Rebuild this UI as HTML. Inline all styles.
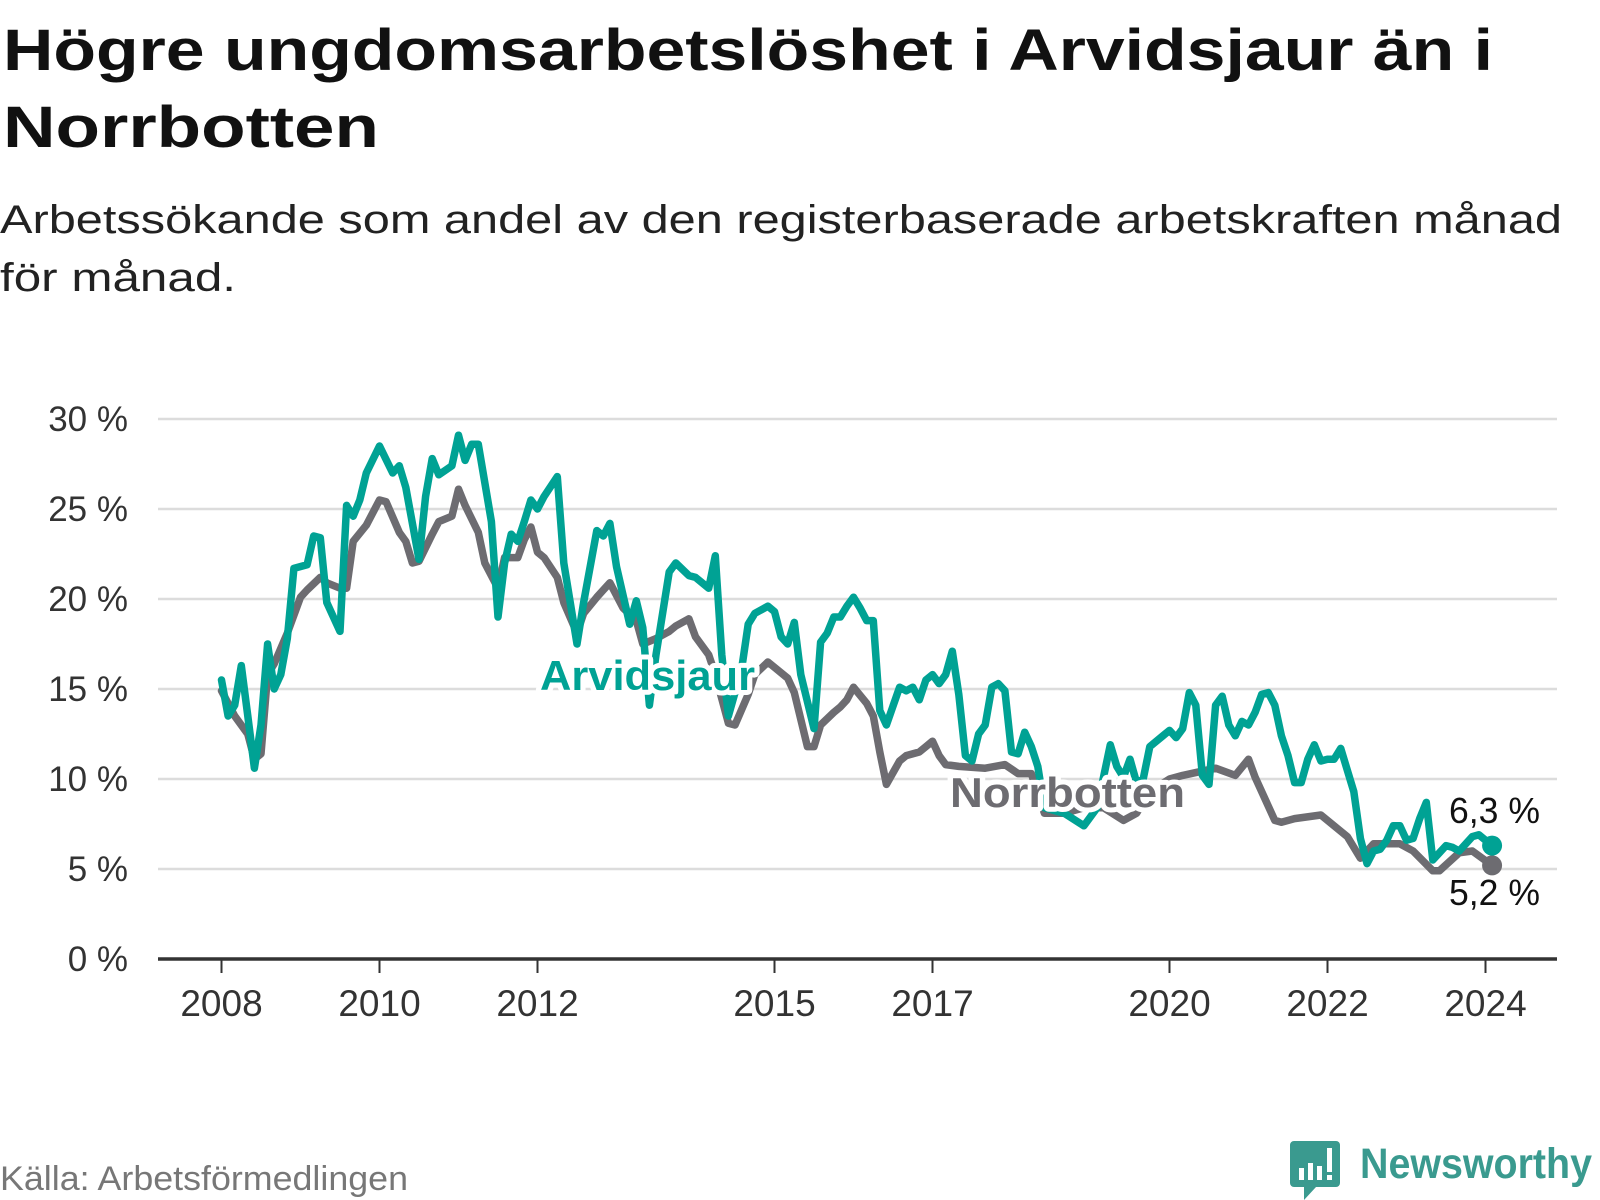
<!DOCTYPE html>
<html><head><meta charset="utf-8"><style>
body{margin:0;background:#fff;}
svg{display:block;font-family:"Liberation Sans",sans-serif;}
</style></head><body>
<svg id="chart" width="1600" height="1200" viewBox="0 0 1600 1200">
<text x="3" y="70" font-size="58" font-weight="bold" fill="#111" textLength="1490" lengthAdjust="spacingAndGlyphs">Högre ungdomsarbetslöshet i Arvidsjaur än i</text>
<text x="3" y="147" font-size="58" font-weight="bold" fill="#111" textLength="376" lengthAdjust="spacingAndGlyphs">Norrbotten</text>
<text x="0" y="233" font-size="40" fill="#222" textLength="1562" lengthAdjust="spacingAndGlyphs">Arbetssökande som andel av den registerbaserade arbetskraften månad</text>
<text x="0" y="291" font-size="40" fill="#222" textLength="236" lengthAdjust="spacingAndGlyphs">för månad.</text>
<g id="grid"></g>
<g id="yaxis"></g>
<g id="xaxis"></g>
<g id="series"></g>
<g id="labels"></g>
<text x="0" y="1190" font-size="34" fill="#777" textLength="408" lengthAdjust="spacingAndGlyphs">Källa: Arbetsförmedlingen</text>
<g>
<path d="M1294 1141 h42 a4 4 0 0 1 4 4 v38 a4 4 0 0 1 -4 4 h-20 l-12 13 v-13 h-10 a4 4 0 0 1 -4 -4 v-38 a4 4 0 0 1 4 -4z" fill="#3a9a8f"/>
<rect x="1299" y="1168" width="5" height="12" fill="#fff"/><rect x="1308" y="1163" width="5" height="17" fill="#fff"/><rect x="1317" y="1166" width="5" height="14" fill="#fff"/><rect x="1327" y="1148" width="5" height="24" fill="#fff"/><rect x="1327" y="1175" width="5" height="5" fill="#fff"/>
<text x="1360" y="1178" font-size="43" font-weight="bold" fill="#3a9a8f" textLength="232" lengthAdjust="spacingAndGlyphs">Newsworthy</text>
</g>
</svg>
<script>
const yTicks=[0,5,10,15,20,25,30];
const yTickLabels=["0 %","5 %","10 %","15 %","20 %","25 %","30 %"];
const xTickYears=[2008,2010,2012,2015,2017,2020,2022,2024];
const arvMonths=[0,1,2,3,4,5,6,7,8,9,10,11,13,14,15,16,18,19,20,21,22,24,26,27,28,30,31,32,33,35,36,37,38,39,41,42,43,44,45,46,47,48,49,51,52,54,55,57,58,59,60,62,63,64,65,66,68,69,71,72,74,75,76,77,79,80,81,83,84,85,86,87,88,90,91,92,93,94,95,96,97,98,99,100,101,103,104,105,106,107,108,109,110,111,112,113,114,115,116,117,118,119,120,121,122,123,124,125,128,131,133,135,136,137,138,139,140,141,143,144,145,146,147,148,149,150,151,152,153,154,155,156,157,158,159,160,161,162,163,164,165,166,167,168,169,170,172,173,174,175,176,177,178,179,180,181,182,183,184,185,186,187,188,189,190,191,193];
const arvValues=[15.5,13.5,14.1,16.3,13.5,10.6,13,17.5,15,15.8,17.8,21.7,21.9,23.5,23.4,19.8,18.2,25.2,24.6,25.5,27,28.5,27,27.4,26.2,22.2,25.7,27.8,26.9,27.4,29.1,27.7,28.6,28.6,24.3,19,22,23.6,23.2,24.3,25.5,25,25.7,26.8,22,17.5,19.8,23.8,23.5,24.2,21.8,18.6,19.9,18.4,14.1,16.9,21.5,22,21.3,21.2,20.6,22.4,16.9,13.5,16.1,18.6,19.2,19.6,19.3,17.9,17.5,18.7,15.8,12.8,17.6,18.1,19,19,19.6,20.1,19.5,18.8,18.8,13.8,13,15.1,14.9,15.1,14.4,15.5,15.8,15.3,15.8,17.1,14.7,11.3,11,12.5,13,15.1,15.3,14.9,11.5,11.4,12.6,11.8,10.7,8.4,8.1,7.4,8.4,11.9,10.7,10.1,11.1,9.8,10,11.8,12.4,12.7,12.3,12.8,14.8,14.1,10.2,9.7,14.1,14.6,13,12.4,13.2,13,13.7,14.7,14.8,14.1,12.4,11.3,9.8,9.8,11.1,11.9,11,11.1,11.1,11.7,9.3,6.7,5.3,6,6.1,6.6,7.4,7.4,6.6,6.7,7.8,8.7,5.5,5.9,6.3,6.2,6,6.4,6.8,6.9,6.3];
const norMonths=[0,2,4,5,6,7,8,10,12,13,15,16,18,19,20,22,24,25,27,28,29,30,32,33,35,36,37,39,40,42,43,45,46,47,48,49,51,52,54,55,57,58,59,61,63,64,66,68,69,71,72,74,75,77,78,80,81,83,84,86,87,89,90,91,93,94,95,96,98,99,100,101,103,104,106,107,108,109,110,112,116,119,121,123,125,128,131,134,137,139,141,144,146,151,154,156,157,160,161,163,167,171,173,175,179,181,184,185,188,190,193];
const norValues=[14.9,13.5,12.5,11.1,11.4,15.8,16.4,18.1,20.1,20.5,21.2,20.9,20.6,20.6,23.2,24.1,25.5,25.4,23.7,23.2,22,22.1,23.6,24.3,24.6,26.1,25.2,23.7,22,20.6,22.3,22.3,23.3,24,22.6,22.3,21.2,19.8,18.1,19.2,20.1,20.5,20.9,19.5,18.8,17.5,17.8,18.2,18.5,18.9,17.9,16.9,15.8,13.1,13,14.7,15.8,16.5,16.2,15.6,14.8,11.8,11.8,13,13.7,14,14.4,15.1,14.2,13.5,11.5,9.7,11,11.3,11.5,11.8,12.1,11.3,10.8,10.7,10.6,10.8,10.3,10.3,8.1,8.1,8.4,8.4,7.7,8.1,9.3,10,10.2,10.6,10.2,11.1,10.1,7.7,7.6,7.8,8.0,6.8,5.6,6.4,6.4,6,4.9,4.9,5.9,6,5.2];
const arvEndLabel="6,3 %", norEndLabel="5,2 %";

const NS="http://www.w3.org/2000/svg";
const X0=158,X1=1557;
function xScale(m){return 221.5+m*(79.0/12);}
function yScale(v){return 959-v*18.0;}
function mk(tag,attrs,parent){const e=document.createElementNS(NS,tag);for(const k in attrs)e.setAttribute(k,attrs[k]);parent.appendChild(e);return e;}
const grid=document.getElementById('grid'),ya=document.getElementById('yaxis'),xa=document.getElementById('xaxis'),ser=document.getElementById('series'),lab=document.getElementById('labels');
yTicks.forEach((t,i)=>{
  if(t>0){const l=mk('line',{x1:X0,x2:X1,y1:yScale(t),y2:yScale(t),stroke:'#dcdcdc','stroke-width':2.5},grid);
  
  }
  const tx=mk('text',{x:128,y:yScale(t)+12,'text-anchor':'end','font-size':35,fill:'#333'},ya);
  
  
  tx.textContent=yTickLabels[i];
});
const ax=mk('line',{x1:X0,x2:X1,y1:959,y2:959,stroke:'#333','stroke-width':3.5},xa);


xTickYears.forEach(y=>{
  const x=xScale((y-2008)*12);
  const tk=mk('line',{x1:x,x2:x,y1:959,y2:973,stroke:'#333','stroke-width':2},xa);
  
  
  const tx=mk('text',{x:x,y:1016,'text-anchor':'middle','font-size':37,fill:'#333'},xa);
  
  
  tx.textContent=y;
});
function line(ms,vs,color,name){
  const d=ms.map((m,i)=>(i?'L':'M')+xScale(m).toFixed(1)+' '+yScale(vs[i]).toFixed(1)).join(' ');
  const p=mk('path',{d:d,fill:'none',stroke:color,'stroke-width':7.5,'stroke-linejoin':'round','stroke-linecap':'round'},ser);
  
  
  const n=ms.length-1;
  const c=mk('circle',{cx:xScale(ms[n]),cy:yScale(vs[n]),r:10,fill:color},ser);
  
  
}
line(norMonths,norValues,'#6d6c71','norrbotten-line');
line(arvMonths,arvValues,'#00a294','arvidsjaur-line');
function label(txt,x,y,color,name,bold,len){
  const t=mk('text',{x:x,y:y,'font-size':bold?42:36,'font-weight':bold?'bold':'normal',fill:color,stroke:'#fff','stroke-width':bold?10:0,'paint-order':'stroke','stroke-linejoin':'round',textLength:len,lengthAdjust:'spacingAndGlyphs'},lab);
  
  
  t.textContent=txt;
}
label('Arvidsjaur',540,690,'#00a294','arvidsjaur-label',true,215);
label('Norrbotten',950,807,'#6d6c71','norrbotten-label',true,235);
label(arvEndLabel,1449,823,'#111','arvidsjaur-end-value',false,91);
label(norEndLabel,1449,905,'#111','norrbotten-end-value',false,91);
</script>
</body></html>
